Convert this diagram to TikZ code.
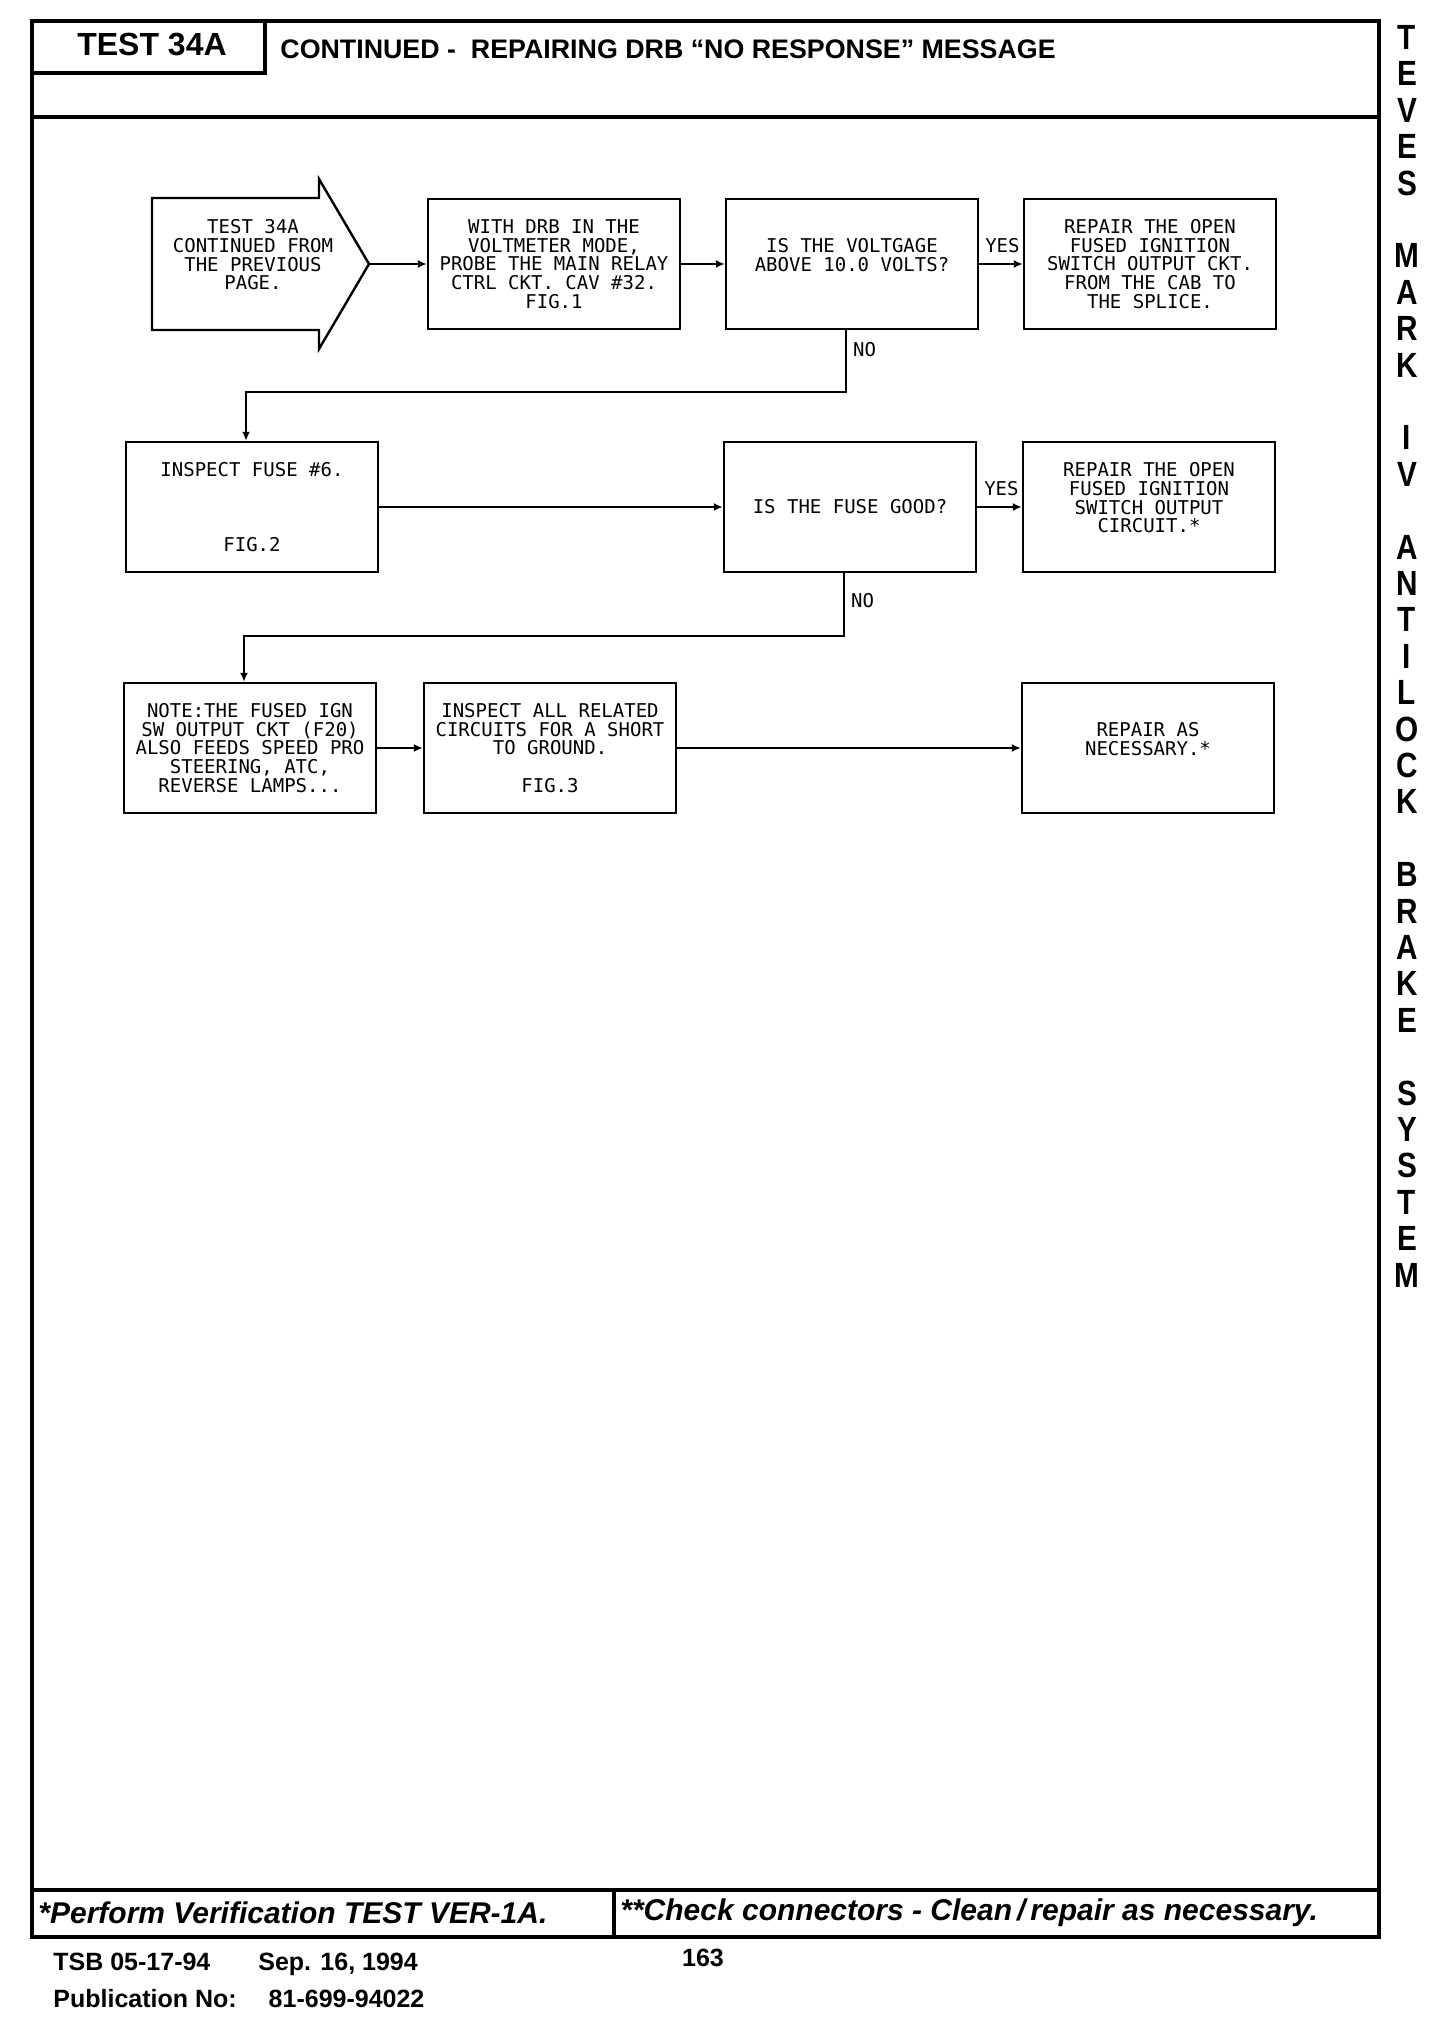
\documentclass[tikz,border=0pt]{standalone}
\usepackage{fontspec}
\setmainfont{Liberation Sans}
\newfontfamily\plotfont{DejaVu Sans Mono}
\usetikzlibrary{arrows.meta}

\begin{document}
\begin{tikzpicture}[x=0.5pt, y=-0.5pt,
        box/.style={draw, line width=1.2pt, minimum width=126pt, minimum height=65pt, inner sep=1pt, align=center, font=\plotfont\fontsize{9.5}{9.35}\selectfont},
        lbl/.style={inner sep=1pt, font=\plotfont\fontsize{9.5}{9.35}\selectfont},
        flow/.style={line width=1.2pt, -{Latex[length=4.5pt, width=4pt]}},
        cadre/.style={line width=1.8pt},
        side/.style={inner sep=0pt, font=\bfseries\fontsize{17.5}{17.5}\selectfont},
        foot/.style={anchor=west, inner sep=0pt, font=\bfseries\itshape\fontsize{15}{15}\selectfont},
        small/.style={anchor=west, inner sep=0pt, font=\bfseries\fontsize{12.5}{12.5}\selectfont}]

            \useasboundingbox (0,0) rectangle (1440,2022);

            % cadre
            \draw[cadre] (32,21) rectangle (1379,1937);
            \draw[cadre] (32,117) -- (1379,117);
            \draw[cadre] (32,73) -- (265,73) -- (265,21);
            \draw[cadre] (32,1890) -- (1379,1890);
            \draw[cadre] (614,1890) -- (614,1937);

            \node[font=\bfseries\fontsize{16}{16}\selectfont] (test) at (152,45) {TEST 34A};
            \node[anchor=west, inner sep=0pt, font=\bfseries\fontsize{13.4}{13.4}\selectfont] (title) at (280,49) {CONTINUED -\ \ REPAIRING DRB “NO RESPONSE” MESSAGE};

            % colonne
            \foreach \c [count=\i from 0] in {T,E,V,E,S,,M,A,R,K,,I,V,,A,N,T,I,L,O,C,K,,B,R,A,K,E,,S,Y,S,T,E,M} {
                \ifx\c\empty\else
                    \node[side] (side\i) at (1407, {37.5+36.4*\i}) {\scalebox{0.85}[1]{\c}};
                \fi
            }

            % depart
            \draw[line width=1.2pt] (152,198) -- (319,198) -- (319,179) -- (369,264) -- (319,349) -- (319,330) -- (152,330) -- cycle;
            \node[lbl, align=center] (start) at (253,264) {TEST 34A\\CONTINUED FROM\\THE PREVIOUS\\PAGE.\\~};
            \coordinate (tip) at (369,264);

            % boites
            \node[box] (probe) at (554,264) {WITH DRB IN THE\\VOLTMETER MODE,\\PROBE THE MAIN RELAY\\CTRL CKT. CAV \#32.\\FIG.1};
            \node[box] (volts) at (852,264) {IS THE VOLTGAGE\\ABOVE 10.0 VOLTS?\\~};
            \node[box] (repairA) at (1150,264) {REPAIR THE OPEN\\FUSED IGNITION\\SWITCH OUTPUT CKT.\\FROM THE CAB TO\\THE SPLICE.};
            \node[box] (fuse) at (252,507) {INSPECT FUSE \#6.\\~\\~\\~\\FIG.2};
            \node[box] (good) at (850,507) {IS THE FUSE GOOD?};
            \node[box] (repairB) at (1149,507) {REPAIR THE OPEN\\FUSED IGNITION\\SWITCH OUTPUT\\CIRCUIT.*\\~};
            \node[box] (note) at (250,748) {NOTE:THE FUSED IGN\\SW OUTPUT CKT (F20)\\ALSO FEEDS SPEED PRO\\STEERING, ATC,\\REVERSE LAMPS...};
            \node[box] (short) at (550,748) {INSPECT ALL RELATED\\CIRCUITS FOR A SHORT\\TO GROUND.\\~\\FIG.3};
            \node[box] (repairC) at (1148,748) {REPAIR AS\\NECESSARY.*\\~};

            % fleches
            \draw[flow] (tip) -- (probe);
            \draw[flow] (probe) -- (volts);
            \draw[flow] (volts) -- node[pos=1, anchor=south east, yshift=4pt, lbl] {YES} (repairA);
            \draw[flow] ([xshift=-3pt]volts.south) -- node[pos=0.32, anchor=west, xshift=2pt, lbl] {NO} ++(0,62) -| ([xshift=-3pt]fuse.north);
            \draw[flow] (fuse) -- (good);
            \draw[flow] (good) -- node[pos=1, anchor=south east, yshift=4pt, lbl] {YES} (repairB);
            \draw[flow] ([xshift=-3pt]good.south) -- node[pos=0.43, anchor=west, xshift=2pt, lbl] {NO} ++(0,63) -| ([xshift=-3pt]note.north);
            \draw[flow] (note) -- (short);
            \draw[flow] (short) -- (repairC);

            % bas de page
            \node[foot] (verif) at (38,1913) {*Perform Verification TEST VER-1A.};
            \node[foot] (check) at (620,1913) {**Check connectors - Clean\,/\,repair as necessary.};
            \node[small] (tsb) at (53,1964) {TSB 05-17-94\hspace{24pt}Sep. 16, 1994};
            \node[small] (pub) at (53,1999) {Publication No:\hspace{16pt}81-699-94022};
            \node[small, anchor=center] (page) at (703,1958) {163};
\end{tikzpicture}
\end{document}
